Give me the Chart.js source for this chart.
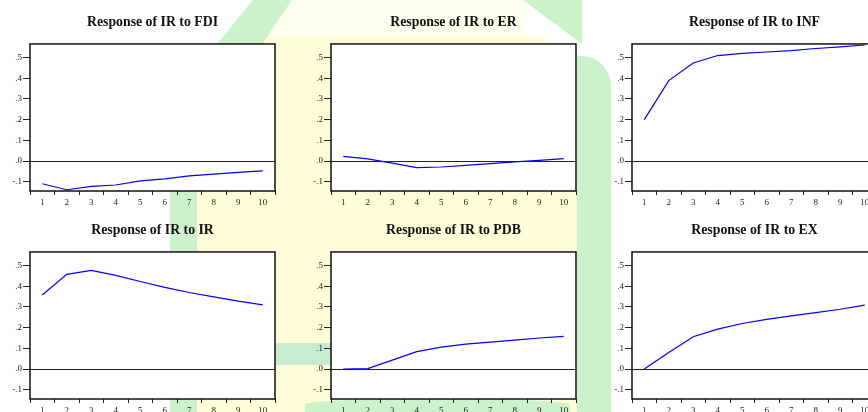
<!DOCTYPE html>
<html>
<head>
<meta charset="utf-8">
<script src="https://cdn.jsdelivr.net/npm/chart.js@4"></script>
<style>
    html, body { margin: 0; padding: 0; }
    body { width: 868px; height: 412px; overflow: hidden; position: relative; background: #fff; }
    .wm { position: absolute; }
    .panel { position: absolute; }
</style>
</head>
<body>
<!-- faint logo watermark behind the panels -->
<div class="wm" style="left:255px;top:0;width:270px;height:60px;background:#fffff0;"></div>
<div class="wm" style="left:197px;top:36px;width:386px;height:390px;border-radius:60px 60px 0 0;background:#fffed8;"></div>
<div class="wm" style="left:0;top:0;width:868px;height:60px;background:#ccf2cc;clip-path:polygon(217px 44px,253px 0,292px 0,262px 44px);"></div>
<div class="wm" style="left:0;top:0;width:868px;height:60px;background:#ccf2cc;clip-path:polygon(523px 0,582px 0,582px 44px);"></div>
<div class="wm" style="left:577px;top:56px;width:34px;height:360px;background:#ccf2cc;border-radius:0 30px 0 0;"></div>
<div class="wm" style="left:170px;top:185px;width:27px;height:230px;background:#ccf2cc;"></div>
<div class="wm" style="left:272px;top:343px;width:66px;height:22px;background:#c8ebd2;"></div>
<div class="wm" style="left:305px;top:399px;width:265px;height:14px;background:#ccf2cc;border-radius:40% 40% 0 0;"></div>

<canvas id="c1" class="panel" width="285" height="206"></canvas>
<canvas id="c2" class="panel" width="285" height="206"></canvas>
<canvas id="c3" class="panel" width="285" height="206"></canvas>
<canvas id="c4" class="panel" width="285" height="206"></canvas>
<canvas id="c5" class="panel" width="285" height="206"></canvas>
<canvas id="c6" class="panel" width="285" height="206"></canvas>

<script>
// Impulse responses of IR, periods 1..10
const periods = ['1', '2', '3', '4', '5', '6', '7', '8', '9', '10'];
const fdi = [-0.110, -0.139, -0.123, -0.116, -0.096, -0.086, -0.072, -0.063, -0.055, -0.048];
const er  = [0.022, 0.010, -0.010, -0.032, -0.029, -0.021, -0.013, -0.004, 0.003, 0.012];
const inf = [0.200, 0.389, 0.474, 0.510, 0.520, 0.527, 0.534, 0.544, 0.552, 0.561];
const ir  = [0.358, 0.458, 0.477, 0.453, 0.423, 0.395, 0.370, 0.349, 0.328, 0.310];
const pdb = [0.000, 0.002, 0.043, 0.084, 0.106, 0.120, 0.130, 0.140, 0.150, 0.158];
const ex  = [0.000, 0.080, 0.156, 0.193, 0.220, 0.240, 0.257, 0.273, 0.289, 0.309];

const yMin = -0.145;
const yMax = 0.566;
const yStep = 0.1;

const panels = [
    { id: 'c1', title: 'Response of IR to FDI', data: fdi, col: 0, row: 0 },
    { id: 'c2', title: 'Response of IR to ER',  data: er,  col: 1, row: 0 },
    { id: 'c3', title: 'Response of IR to INF', data: inf, col: 2, row: 0 },
    { id: 'c4', title: 'Response of IR to IR',  data: ir,  col: 0, row: 1 },
    { id: 'c5', title: 'Response of IR to PDB', data: pdb, col: 1, row: 1 },
    { id: 'c6', title: 'Response of IR to EX',  data: ex,  col: 2, row: 1 }
];

const colLeft = [0, 301, 602];
const rowTop = [0, 208];

// white plot area + closed frame
const framePlugin = {
    id: 'frame',
    beforeDraw(chart) {
        const a = chart.chartArea, ctx = chart.ctx;
        ctx.save();
        ctx.fillStyle = '#fff';
        ctx.fillRect(a.left, a.top, a.right - a.left, a.bottom - a.top);
        ctx.restore();
    },
    afterDraw(chart) {
        const a = chart.chartArea, ctx = chart.ctx;
        ctx.save();
        ctx.strokeStyle = '#111';
        ctx.lineWidth = 1.5;
        ctx.strokeRect(a.left, a.top, a.right - a.left, a.bottom - a.top);
        ctx.restore();
    }
};

function fmtTick(v) {
    let s = v.toFixed(1);
    if (s === '-0.0') s = '0.0';
    return s.replace('0.', '.');
}

const serif = "'Liberation Serif', 'Times New Roman', serif";

function makePanel(p) {
    const el = document.getElementById(p.id);
    el.style.left = colLeft[p.col] + 'px';
    el.style.top = rowTop[p.row] + 'px';

    return new Chart(el, {
        type: 'line',
        data: {
            labels: periods,
            datasets: [{
                data: p.data,
                borderColor: '#0000ff',
                borderWidth: 1.2,
                pointRadius: 0,
                tension: 0,
                fill: false
            }]
        },
        plugins: [framePlugin],
        options: {
            responsive: false,
            animation: false,
            layout: { padding: { left: 0, right: 10, top: 0, bottom: 0 } },
            plugins: {
                legend: { display: false },
                tooltip: { enabled: false },
                title: {
                    display: true,
                    text: p.title,
                    fullSize: false,
                    color: '#111',
                    font: { family: serif, size: 13.8, weight: 'bold', lineHeight: 1.2 },
                    padding: { top: 13.8, bottom: 13.6 }
                }
            },
            scales: {
                x: {
                    offset: true,
                    afterFit: s => { s.height = 15; },
                    border: { display: false },
                    grid: { offset: true, drawOnChartArea: false, tickLength: 4, color: '#222' },
                    ticks: {
                        autoSkip: false, maxRotation: 0, padding: 2, color: '#222',
                        font: { family: serif, size: 9 }
                    }
                },
                y: {
                    min: yMin,
                    max: yMax,
                    afterFit: s => { s.width = 30; },
                    border: { display: false },
                    grid: {
                        tickLength: 7,
                        tickColor: '#222',
                        color: ctx => (ctx.tick && ctx.tick.value === 0) ? '#222' : 'transparent'
                    },
                    ticks: {
                        stepSize: yStep, includeBounds: false, padding: 1, color: '#222',
                        font: { family: serif, size: 9 },
                        callback: v => fmtTick(v)
                    }
                }
            }
        }
    });
}

panels.forEach(makePanel);
</script>
</body>
</html>
